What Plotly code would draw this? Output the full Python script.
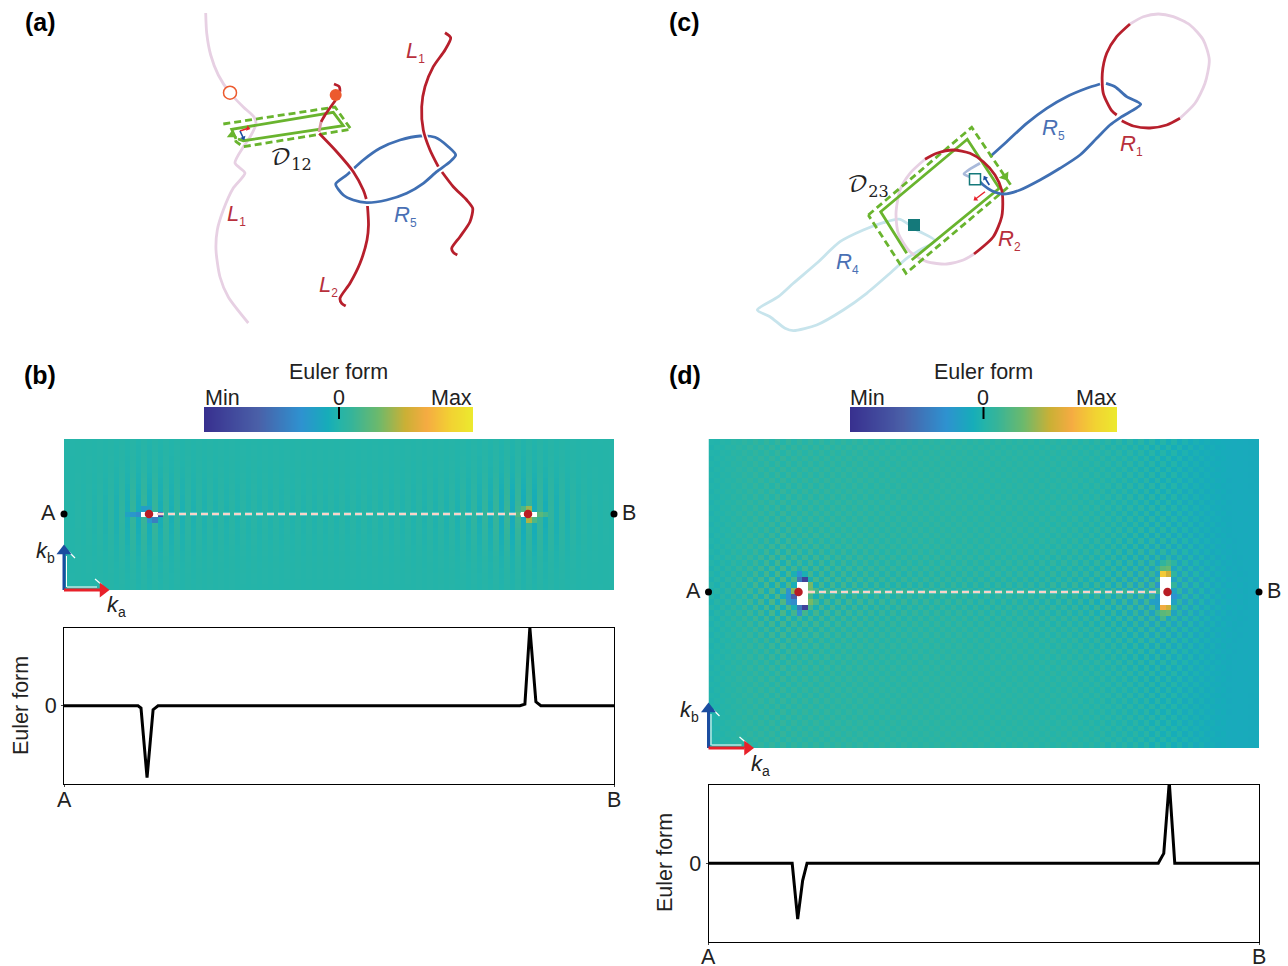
import numpy as np
import plotly.graph_objects as go

W, H = 1288, 966
SANS = "Liberation Sans"
RED = "#b71f2c"; PINK = "#e7d0e3"; BLUE = "#3f6fb3"; PALEBLUE = "#c7e4ec"; FADEBLUE = "#a9b9da"
GREEN = "#69b42e"; ORANGE = "#ec5a2e"; TEAL = "#14797a"; LABELBLUE = "#4a70b4"; LABELRED = "#b8303c"

# ---------- sketch curves (a), in figure units ----------
A_L1_PALE = [(205.7,13),(206.7,33),(210.7,55),(218.3,75),(230,93),(243.3,107),(254,117),(256,124),(250,137),(243.3,147),(235,163),(245,173),(233.3,188),(223.3,210),(217.3,230),(216,250),(220,277),(228.3,297),(248.3,323)]
A_L2_HOOK = [(334,84),(339.3,86.7),(340,91.7)]
A_L2_TOP = [(335.7,100),(325,115),(321,122)]
A_L2_FADE = [(321,122),(319,132)]
A_L2_MID = [(319.3,133.5),(336.7,151.7),(353.3,171.7),(363.3,190),(366.3,199)]
A_L2_LOW = [(367.5,206),(368.5,225),(367,240),(360,263.3),(350,283.3),(340,298.3),(341.7,303.3),(345.7,306)]
A_L1_TOP = [(445,32.7),(450.7,37.7),(445,50),(433.3,66.7),(425,86.7),(421.7,106.7),(423.3,130),(430,150),(438.3,166.7)]
A_L1_LOW = [(442,172),(453.3,186.7),(466.7,200),(472.7,208.3),(470,221.7),(460,236.7),(451.7,248.3),(453.3,252.3),(457.3,255)]
A_R5 = [(335.7,184),(346.7,175),(363.3,160),(380,148.3),(400,140),(420,136),(435,137.3),(448.3,146.7),(455.7,155),(450,161.7),(436.7,171.7),(423.3,183.3),(406.7,193.3),(386.7,200),(366.7,202.7),(353.3,200),(343.3,195),(335.7,184)]
A_GREEN_SOLID = [(236,139),(231.7,129.3),(333.3,112.3),(343.3,125.7),(243.3,140.7),(238,139)]
A_GREEN_DASH = [(223.3,124),(335,107),(351,129.3),(243.3,146.7),(236,141.7),(233,134)]

# ---------- sketch curves (c) ----------
C_R1_RED_A = [(1130,24),(1116.7,36.7),(1106.7,53.3),(1102.3,73.3),(1103.3,93.3),(1111.7,110.7),(1116.7,115)]
C_R1_RED_B = [(1121.7,120.7),(1133.3,126),(1150,128),(1166.7,125),(1180,118.3)]
C_R1_PINK = [(1180,118.3),(1195,103.3),(1205,83.3),(1209.3,60),(1203.3,40),(1190,25),(1173.3,16.7),(1158.3,14),(1143.3,16.7),(1130,24)]
C_R2_RED = [(925,159.3),(936.7,153.3),(953.3,150),(970,153.3),(983.3,161.7),(995,175),(1001.7,190),(1002.7,198.3),(1001.7,216.7),(993.3,236.7),(974,254)]
C_R2_PINK = [(974,254),(963.3,260),(946.7,264),(926.7,261.7),(910,251.7),(898.3,233.3),(896,213.3),(900,190),(910,173.3),(925,159.3)]
C_R5_UP = [(990,156.7),(1006.7,141.7),(1026.7,123.3),(1046.7,108.3),(1066.7,96.7),(1086.7,88.3),(1100,84)]
C_R5_LOW = [(1106,83.3),(1115,86.7),(1126.7,96.7),(1140.7,104.3),(1121.7,116.7),(1110,125),(1096.7,138.3),(1080,155),(1060,168.3),(1040,180),(1020,190),(1003.3,194),(991.7,190.7),(983.3,185),(980,181.7)]
C_R5_FADE = [(980,163.3),(964,174),(970,177)]
C_R4 = [(935,240.7),(916.7,230),(900,219.3),(883.3,222.7),(863.3,230),(840,241.7),(816.7,263.3),(793.3,283.3),(778.3,296.7),(757.3,310),(770,316.7),(785,328.3),(793.3,330.7),(816.7,325),(843.3,310),(866.7,293.3),(890,273.3),(906.7,258.3),(920,250),(935,240.7)]
C_GREEN_SOLID = [(906.7,253.3),(880.7,211.7),(967.3,139.3),(999.3,188.3),(911.7,260)]
C_GREEN_DASH = [(868.3,215),(971.7,127.3),(1010.7,185),(906,273.3),(868.3,215)]

# small (start, end, colour) vectors
SMALL_ARROWS = [((240,131),(248,128.3),"#e8212a",1.6,105),((240,131),(243.3,138),"#1b4da0",1.6,155),
                ((989.3,185),(985,178),"#1b4da0",1.6,-30),((985,191.7),(975.5,199),"#e8212a",1.4,232)]

# ---------- Euler form cuts ----------
B_CUT_X = [0,.1345,.14,.151,.162,.171,.829,.838,.847,.858,.867,1]
B_CUT_Y = [0,0,-.03,-.92,-.05,0,0,.02,1.0,.05,0,0]
D_CUT_X = [0,.152,.162,.171,.179,.817,.827,.837,.847,1]
D_CUT_Y = [0,0,-.71,-.22,0,0,.125,1.03,0,0]

# ---------- heat maps, colour-scale position, 0.5 = zero ----------
B_LEVEL = 0.505
B_COLS = [.003,-.004,.005,-.006,.008,-.01,.013,-.016,.02,-.024,
          .03,-.034,.04,-.045,.05,-.05,.045,-.04,.036,-.032,
          .028,-.025,.022,-.02,.018,-.017,.016,-.015,.014,-.014,
          .013,-.013,.012,-.012,.012,-.012,.011,-.011,.011,-.011,
          .01,-.01,.01,-.01,.01,-.01,.01,-.01,.01,-.01,
          .01,-.01,.01,-.01,.01,-.01,.011,-.011,.011,-.011,
          .012,-.012,.012,-.013,.013,-.014,.014,-.015,.016,-.017,
          .018,-.02,.022,-.025,.028,-.032,.036,-.04,.045,-.05,
          .05,-.055,.055,-.055,.05,-.05,.045,-.04,.034,-.03,
          .025,-.02,.016,-.013,.01,-.008,.006,-.005,.003,-.002]
B_ROWS = [.15,.18,.2,.25,.3,.35,.45,.55,.65,.75,.85,.95,1,1,1,.95,.85,.75,.65,.55,.45,.35,.3,.25,.2,.18,.15]
B_PATCH = [(13,11,.42),(13,12,.38),(13,13,.34),(13,17,.1),(12,14,.4),(14,15,.38),(12,15,.42),(14,16,.3),
           (12,84,.7),(14,84,.72),(12,83,.6),(14,85,.6),(13,86,.62),(13,87,.58),(13,82,.6)]
B_WHITE = [(13,14),(13,15),(13,16),(13,83),(13,84),(13,85)]

D_BASE = [.495,.5,.505,.51,.515,.52,.522,.525,.525,.525,
          .525,.525,.525,.525,.525,.525,.525,.525,.525,.525,
          .525,.525,.525,.525,.525,.525,.525,.525,.525,.522,
          .522,.522,.522,.522,.522,.522,.522,.522,.522,.522,
          .522,.522,.522,.522,.522,.522,.522,.518,.518,.518,
          .518,.518,.518,.518,.518,.518,.518,.518,.515,.515,
          .515,.515,.515,.515,.515,.515,.515,.51,.51,.51,
          .51,.51,.505,.505,.505,.5,.5,.498,.496,.494,
          .49,.49,.485,.485,.48,.475,.47,.47,.465,.465,
          .46,.46,.455,.455,.45,.45,.45,.45,.45,.45]
D_COLS = [.012,-.015,.018,-.021,.024,-.03,.036,-.042,.048,-.054,
          .06,-.066,.072,-.072,.072,-.06,.06,-.06,.06,-.06,
          .054,-.054,.05,-.05,.048,-.048,.045,-.045,.042,-.042,
          .039,-.039,.036,-.036,.036,-.036,.033,-.033,.033,-.033,
          .03,-.03,.03,-.03,.03,-.03,.03,-.03,.03,-.03,
          .03,-.03,.03,-.03,.03,-.03,.03,-.03,.033,-.033,
          .033,-.033,.036,-.036,.036,-.039,.039,-.042,.042,-.045,
          .048,-.048,.054,-.054,.06,-.06,.066,-.066,.072,-.072,
          .08,-.08,.072,-.072,.066,-.06,.054,-.048,.04,-.033,
          .027,-.021,.018,-.012,.009,-.006,.005,-.004,.002,-.002]
D_ROWS = [.3,-.3,.3,-.3,.32,-.32,.34,-.34,.36,-.36,.38,-.38,.4,-.42,.44,-.46,.48,-.5,.54,-.58,
          .62,-.66,.72,-.78,.85,-.92,1,-1,1,-1,.92,-.85,.78,-.72,.66,-.62,.58,-.54,.5,-.48,
          .46,-.44,.42,-.4,.38,-.38,.36,-.36,.34,-.34,.32,-.32,.3,-.3,.3,-.3]
D_PATCH = [(25,17,.08),(25,16,.28),(30,17,.08),(30,16,.28),(27,15,.68),(28,15,.2),(29,15,.34),
           (26,18,.66),(27,18,.64),(29,18,.66),(27,14,.37),(28,14,.36),(29,14,.38),(24,16,.36),(31,16,.36),
           (24,82,.9),(24,83,.76),(30,82,.82),(30,83,.76),(23,82,.62),(23,83,.64),(31,82,.62),(31,83,.64),
           (28,84,.36),(26,81,.38),(29,81,.4),(25,84,.42),(22,83,.58),(32,82,.58)]
D_WHITE = [(26,16),(27,16),(28,16),(29,16),(26,17),(27,17),(28,17),(29,17),
           (25,82),(26,82),(27,82),(28,82),(29,82),(25,83),(26,83),(27,83),(28,83),(29,83)]

SCALE = [[0,"#38308f"],[.2,"#4a60a8"],[.36,"#2e92d0"],[.46,"#16adb9"],[.5,"#23b4aa"],[.55,"#35b49a"],
         [.65,"#6cb96c"],[.75,"#cbb035"],[.83,"#f5ab42"],[.92,"#f2d232"],[1,"#ece92e"]]

# ---------- panel boxes in figure units: left, right, top, bottom ----------
BOX_HEAT_B = (64,614,439,590); BOX_HEAT_D = (708.5,1259,439,748)
BOX_CUT_B = (64,614,627.5,784); BOX_CUT_D = (708.5,1259,784.5,942)
BOX_CB_B = (204,473,407,432); BOX_CB_D = (850,1117,407,432)

# cut line, defect and endpoint positions, figure units
CUT_B = dict(y=514,x0=157,x1=521,dotl=149,dotr=528,a=64,b=614)
CUT_D = dict(y=592,x0=808,x1=1159,dotl=798.5,dotr=1167.5,a=708.5,b=1259)

def dom(a, b, size): return [a/size, b/size]
def ydom(t, b): return [1-b/H, 1-t/H]

fig = go.Figure()

def heat_z(base, cols, rows, patch, white):
    z = np.array(base)[None,:] + np.outer(rows, cols)
    for r,c,v in patch: z[r,c] = v
    for r,c in white: z[r,c] = np.nan
    return z

zb = heat_z([B_LEVEL]*len(B_COLS), B_COLS, B_ROWS, B_PATCH, B_WHITE)
zd = heat_z(D_BASE, D_COLS, D_ROWS, D_PATCH, D_WHITE)
fig.add_trace(go.Heatmap(z=zb, xaxis="x", yaxis="y", zmin=0, zmax=1, colorscale=SCALE, showscale=False, hoverongaps=False))
fig.add_trace(go.Heatmap(z=zd, xaxis="x2", yaxis="y2", zmin=0, zmax=1, colorscale=SCALE, showscale=False, hoverongaps=False))
fig.add_trace(go.Scatter(x=B_CUT_X, y=B_CUT_Y, xaxis="x3", yaxis="y3", mode="lines", cliponaxis=False, line=dict(color="black", width=3)))
fig.add_trace(go.Scatter(x=D_CUT_X, y=D_CUT_Y, xaxis="x4", yaxis="y4", mode="lines", cliponaxis=False, line=dict(color="black", width=3)))
ramp = np.linspace(0,1,270)[None,:]
fig.add_trace(go.Heatmap(z=ramp, xaxis="x5", yaxis="y5", zmin=0, zmax=1, colorscale=SCALE, showscale=False))
fig.add_trace(go.Heatmap(z=ramp, xaxis="x6", yaxis="y6", zmin=0, zmax=1, colorscale=SCALE, showscale=False))

def curve(pts, color, width=2.8, dash=None, smooth=True):
    xs, ys = zip(*pts)
    ln = dict(color=color, width=width)
    if dash: ln["dash"] = dash
    if smooth: ln.update(shape="spline", smoothing=0.7)
    fig.add_trace(go.Scatter(x=xs, y=ys, xaxis="x7", yaxis="y7", mode="lines", line=ln, cliponaxis=False))

def marker(x, y, symbol, size, color, line=None, lw=0, angle=0):
    fig.add_trace(go.Scatter(x=[x], y=[y], xaxis="x7", yaxis="y7", mode="markers", cliponaxis=False,
        marker=dict(symbol=symbol, size=size, color=color, angle=angle, line=dict(color=line or color, width=lw))))

# panel a
curve(A_L1_PALE, PINK)
curve(A_R5, BLUE)
curve(A_L2_MID, "white", 5.5); curve(A_L1_TOP, "white", 5.5)
curve(A_GREEN_SOLID, GREEN, 2.8, smooth=False)
curve(A_GREEN_DASH, GREEN, 2.8, "7px,4px", smooth=False)
for p in (A_L2_HOOK, A_L2_TOP, A_L2_MID, A_L2_LOW, A_L1_TOP, A_L1_LOW): curve(p, RED)
curve(A_L2_FADE, "#d99aa5")
marker(230,92.7,"circle",13,"white",ORANGE,1.5)
marker(335.7,95,"circle",12,ORANGE)
marker(232,135,"triangle-up",9,GREEN)

# panel c
curve(C_R4, PALEBLUE)
curve(C_R2_PINK, PINK); curve(C_R1_PINK, PINK)
curve(C_R5_UP, BLUE); curve(C_R5_FADE, FADEBLUE)
curve(C_GREEN_SOLID, GREEN, 2.8, smooth=False)
curve(C_GREEN_DASH, GREEN, 2.8, "7px,4px", smooth=False)
curve(C_R2_RED, RED); curve(C_R1_RED_A, RED); curve(C_R1_RED_B, RED)
curve(C_R5_LOW, BLUE)
marker(1005,176.7,"triangle-up",10,GREEN,angle=146)
marker(975,179.3,"square",11,"white",TEAL,1.5)
marker(914,225,"square",12,TEAL)

for s,e,c,w,ang in SMALL_ARROWS:
    curve([s,e], c, w, smooth=False)
    marker(e[0],e[1],"triangle-up",5,c,angle=ang)

# cut lines and endpoints on the maps
for C in (CUT_B, CUT_D):
    yy = [C["y"],C["y"]]; xx = [C["x0"],C["x1"]]
    curve(list(zip(xx,yy)), "white", 2.6, "7px,4px", smooth=False)
    curve(list(zip(xx,yy)), "#f4a78f", 1, "7px,4px", smooth=False)
    marker(C["dotl"],C["y"],"circle",8.5,"#b81d24")
    marker(C["dotr"],C["y"],"circle",8.5,"#b81d24")
    marker(C["a"],C["y"],"circle",7,"black")
    marker(C["b"],C["y"],"circle",7,"black")

# k-axes arrows
for ox, oy in ((64,590),(708.5,748)):
    curve([(ox+2.5,oy-3),(ox+2.5,oy-34)], "white", 1, smooth=False)
    curve([(ox+3,oy-3),(ox+33,oy-3)], "white", 1, smooth=False)
    curve([(ox+5,oy-38),(ox+11,oy-32)], "white", 1.2, smooth=False)
    curve([(ox+31,oy-11),(ox+38,oy-5)], "white", 1.2, smooth=False)
    curve([(ox,oy),(ox,oy-36)], "#1b4da0", 3, smooth=False)
    curve([(ox,oy),(ox+36,oy)], "#e8212a", 3, smooth=False)
    marker(ox,oy-39,"triangle-up",13,"#1b4da0")
    marker(ox+39,oy,"triangle-right",13,"#e8212a")
curve([(339,407),(339,419)], "black", 2, smooth=False)
curve([(983.5,407),(983.5,419)], "black", 2, smooth=False)

# ---------- text ----------
def sub(main, s, px=12):
    return f'<i>{main}</i><sub><span style="font-size:{px}px">{s}</span></sub>'
LABELS = [
    (40,22,"<b>(a)</b>",25,"black",SANS),(684,22,"<b>(c)</b>",25,"black",SANS),
    (40,375,"<b>(b)</b>",25,"black",SANS),(685,375,"<b>(d)</b>",25,"black",SANS),
    (338.5,372,"Euler form",21.5,"#222",SANS),(983,372,"Euler form",21.5,"#222",SANS),
    (222.5,398,"Min",21.5,"#222",SANS),(339,398,"0",21.5,"#222",SANS),(451,398,"Max",21.5,"#222",SANS),
    (867,398,"Min",21.5,"#222",SANS),(983,398,"0",21.5,"#222",SANS),(1096,398,"Max",21.5,"#222",SANS),
    (48,513,"A",21.5,"#222",SANS),(629,513,"B",21.5,"#222",SANS),
    (693,591,"A",21.5,"#222",SANS),(1274,591,"B",21.5,"#222",SANS),
    (64,800,"A",21.5,"#222",SANS),(614,800,"B",21.5,"#222",SANS),
    (708.5,957,"A",21.5,"#222",SANS),(1259,957,"B",21.5,"#222",SANS),
    (45,552,sub("k","b",14),22,"#222",SANS),(116,606,sub("k","a",14),22,"#222",SANS),
    (689,711,sub("k","b",14),22,"#222",SANS),(760,765,sub("k","a",14),22,"#222",SANS),
    (415,52,sub("L","1"),22,LABELRED,SANS),(236,215,sub("L","1"),22,LABELRED,SANS),
    (328,286,sub("L","2"),22,LABELRED,SANS),(405,216,sub("R","5"),22,LABELBLUE,SANS),
    (1053,129,sub("R","5"),22,LABELBLUE,SANS),(1131,145,sub("R","1"),22,LABELRED,SANS),
    (1009,240,sub("R","2"),22,LABELRED,SANS),(847,263,sub("R","4"),22,LABELBLUE,SANS),
    (291,160,"𝒟<sub>12</sub>",23,"#222","DejaVu Math TeX Gyre, DejaVu Serif"),
    (868,187,"𝒟<sub>23</sub>",23,"#222","DejaVu Math TeX Gyre, DejaVu Serif"),
]
annots = [dict(x=x,y=y,xref="x7",yref="y7",text=t,showarrow=False,font=dict(size=s,color=c,family=f),xanchor="center",yanchor="middle")
          for x,y,t,s,c,f in LABELS]
for x,y in ((21,706),(665,863)):
    annots.append(dict(x=x,y=y,xref="x7",yref="y7",text="Euler form",textangle=-90,showarrow=False,
                       font=dict(size=21.5,color="#222",family=SANS),xanchor="center",yanchor="middle"))

hidden = dict(visible=False, showgrid=False, zeroline=False, automargin=False)
def cut_x(box):
    return dict(domain=dom(box[0],box[1],W), range=[0,1], tickvals=[0,1], showticklabels=False, showline=True, mirror=True,
                linecolor="black", linewidth=1, ticks="outside", ticklen=2,
                showgrid=False, zeroline=False, automargin=False)
def cut_y(box, anchor):
    return dict(domain=ydom(box[2],box[3]), range=[-1,1], tickvals=[0], ticktext=["0"], showline=True, mirror=True,
                linecolor="black", linewidth=1, ticks="outside", ticklen=2, tickfont=dict(size=21.5,color="#222"),
                showgrid=False, zeroline=False, anchor=anchor, automargin=False)

fig.update_layout(
    width=W, height=H, margin=dict(l=0,r=0,t=0,b=0), showlegend=False, autosize=False,
    paper_bgcolor="white", plot_bgcolor="rgba(0,0,0,0)", font=dict(family=SANS), annotations=annots,
    xaxis=dict(domain=dom(*BOX_HEAT_B[:2],W), range=[-.5,len(B_COLS)-.5], **hidden),
    yaxis=dict(domain=ydom(*BOX_HEAT_B[2:]), range=[len(B_ROWS)-.5,-.5], **hidden),
    xaxis2=dict(domain=dom(*BOX_HEAT_D[:2],W), range=[-.5,len(D_COLS)-.5], anchor="y2", **hidden),
    yaxis2=dict(domain=ydom(*BOX_HEAT_D[2:]), range=[len(D_ROWS)-.5,-.5], anchor="x2", **hidden),
    xaxis3=dict(anchor="y3", **cut_x(BOX_CUT_B)), yaxis3=cut_y(BOX_CUT_B,"x3"),
    xaxis4=dict(anchor="y4", **cut_x(BOX_CUT_D)), yaxis4=cut_y(BOX_CUT_D,"x4"),
    xaxis5=dict(domain=dom(*BOX_CB_B[:2],W), anchor="y5", **hidden), yaxis5=dict(domain=ydom(*BOX_CB_B[2:]), anchor="x5", **hidden),
    xaxis6=dict(domain=dom(*BOX_CB_D[:2],W), anchor="y6", **hidden), yaxis6=dict(domain=ydom(*BOX_CB_D[2:]), anchor="x6", **hidden),
    xaxis7=dict(domain=[0,1], range=[0,W], anchor="y7", **hidden),
    yaxis7=dict(domain=[0,1], range=[H,0], anchor="x7", **hidden),
)
fig.write_html("out.html", post_script="document.body.style.margin='0';", config=dict(displayModeBar=False))
